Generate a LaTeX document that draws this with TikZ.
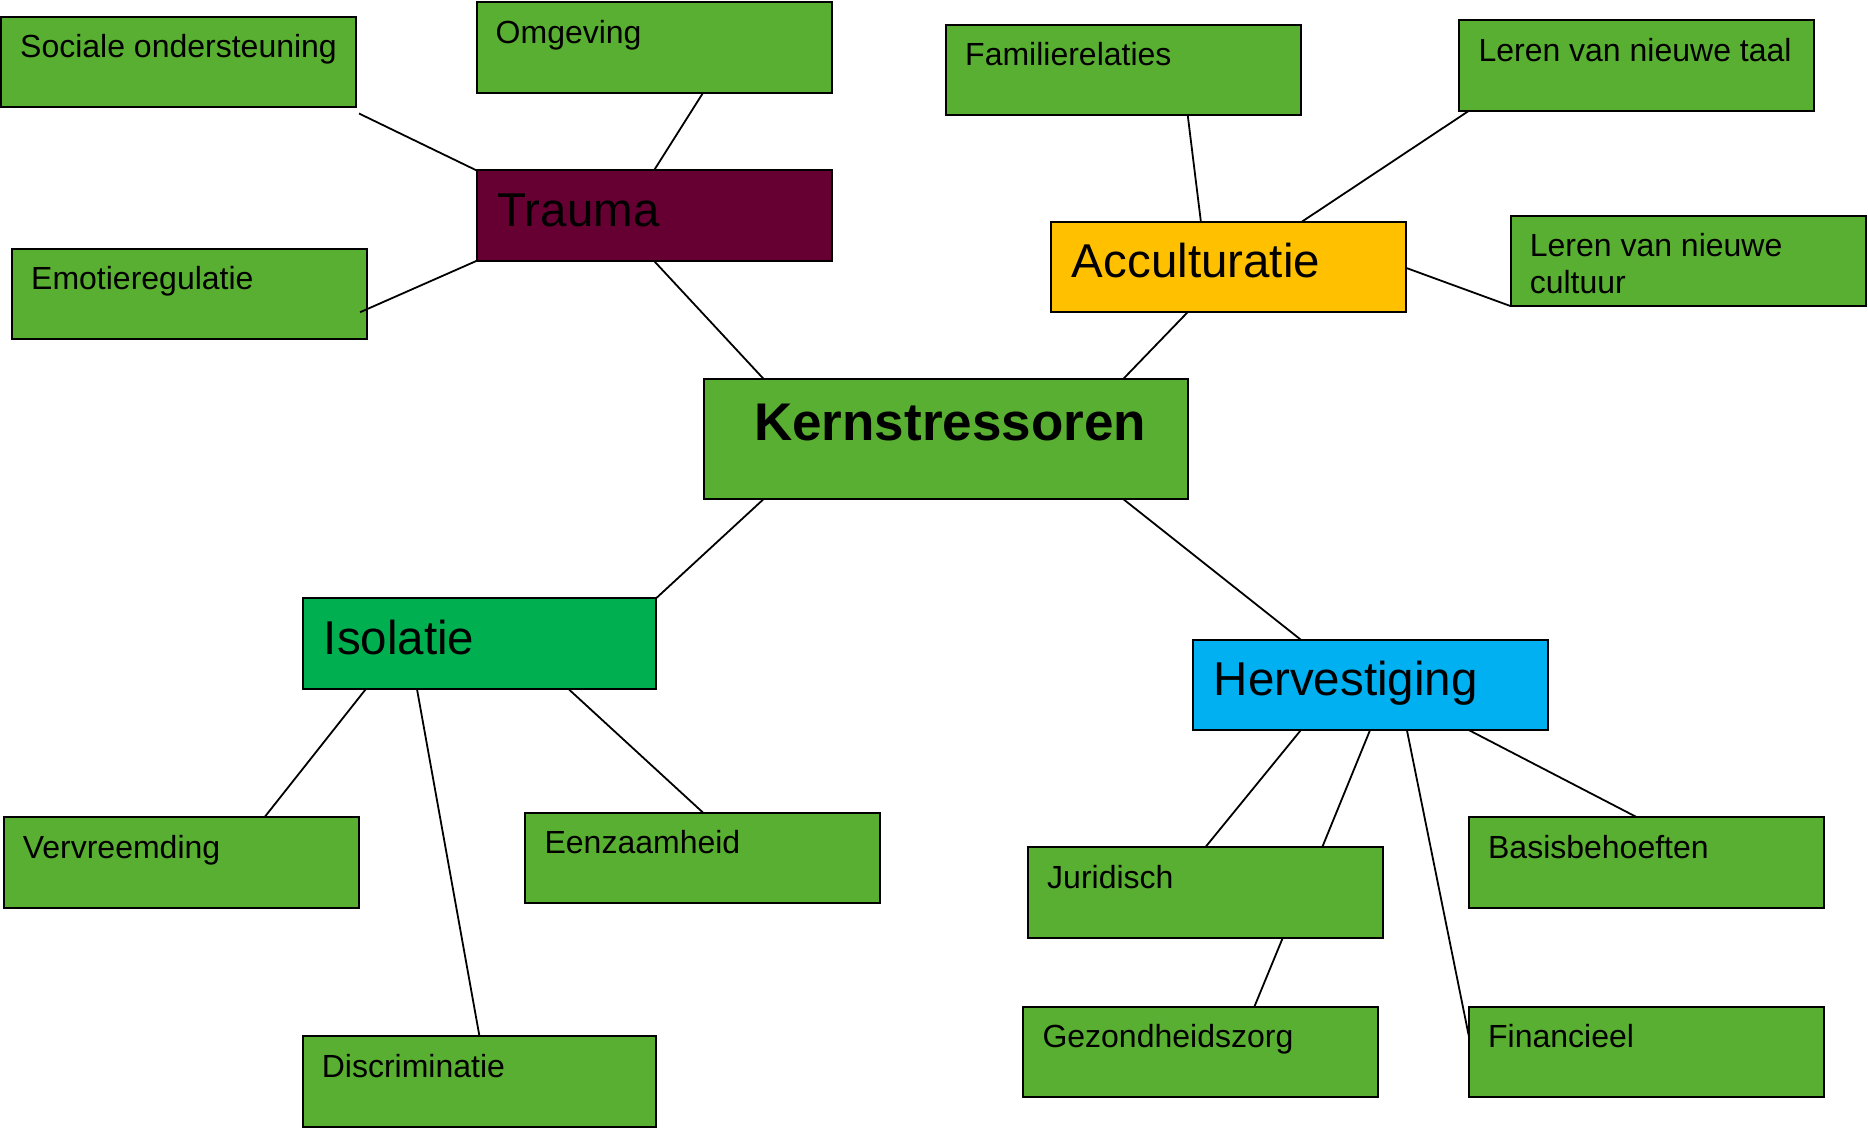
\documentclass[tikz,border=0pt]{standalone}
\usepackage{fontspec}
\setmainfont{Liberation Sans}
\usetikzlibrary{calc}
\definecolor{gr}{RGB}{89,175,49}
\definecolor{trc}{RGB}{102,0,51}
\definecolor{acc}{RGB}{255,192,0}
\definecolor{isc}{RGB}{0,176,80}
\definecolor{hvc}{RGB}{0,176,240}
\tikzset{
  bx/.style={draw=black, line width=2pt, minimum width=355pt, minimum height=90.5pt, anchor=north west, inner sep=0pt, outer sep=0pt, fill=gr},
  smt/.style={font=\fontsize{32}{37}\selectfont, inner sep=0pt, anchor=base west},
  mdt/.style={font=\fontsize{47.5}{55}\selectfont, inner sep=0pt, anchor=base west},
  bgt/.style={font=\fontsize{53}{60}\selectfont\bfseries, inner sep=0pt, anchor=base west},
  ln/.style={draw=black, line width=1.8pt}
}
\begin{document}
\begin{tikzpicture}[x=1pt,y=-1pt]
\useasboundingbox[fill=white] (0,0) rectangle (1868,1131);
% boxes
\node[bx] (so) at (1,17) {};
\node[bx] (om) at (476.5,2.4) {};
\node[bx] (fa) at (946,25) {};
\node[bx] (lt) at (1459.3,20.3) {};
\node[bx, fill=trc] (tr) at (476.5,170.4) {};
\node[bx] (em) at (12,249) {};
\node[bx, fill=acc] (ac) at (1050.7,221.6) {};
\node[bx] (lc) at (1510.6,215.6) {};
\node[bx, minimum width=483.7pt, minimum height=120.4pt] (ke) at (704,378.8) {};
\node[bx, fill=isc, minimum width=353.8pt] (is) at (302.6,598) {};
\node[bx, fill=hvc] (hv) at (1192.5,639.7) {};
\node[bx] (vv) at (3.6,817.2) {};
\node[bx] (ee) at (525.4,812.5) {};
\node[bx] (ju) at (1028,847) {};
\node[bx] (bb) at (1468.9,817.2) {};
\node[bx, minimum width=353.8pt] (di) at (302.6,1036.4) {};
\node[bx] (ge) at (1023.3,1006.6) {};
\node[bx] (fi) at (1468.9,1006.6) {};
% texts
\node[smt] (so-t) at ([shift={(19,41)}]so.north west) {Sociale ondersteuning};
\node[smt] (om-t) at ([shift={(19,41)}]om.north west) {Omgeving};
\node[smt] (fa-t) at ([shift={(19,41)}]fa.north west) {Familierelaties};
\node[smt] (lt-t) at ([shift={(19,41)}]lt.north west) {Leren van nieuwe taal};
\node[smt] (em-t) at ([shift={(19,41)}]em.north west) {Emotieregulatie};
\node[smt] (lc-t1) at ([shift={(19,41)}]lc.north west) {Leren van nieuwe};
\node[smt] (lc-t2) at ([shift={(19,78)}]lc.north west) {cultuur};
\node[smt] (vv-t) at ([shift={(19,41)}]vv.north west) {Vervreemding};
\node[smt] (ee-t) at ([shift={(19,41)}]ee.north west) {Eenzaamheid};
\node[smt] (ju-t) at ([shift={(19,41)}]ju.north west) {Juridisch};
\node[smt] (bb-t) at ([shift={(19,41)}]bb.north west) {Basisbehoeften};
\node[smt] (di-t) at ([shift={(19,41)}]di.north west) {Discriminatie};
\node[smt] (ge-t) at ([shift={(19,41)}]ge.north west) {Gezondheidszorg};
\node[smt] (fi-t) at ([shift={(19,41)}]fi.north west) {Financieel};
\node[mdt] (tr-t) at ([shift={(21,56)}]tr.north west) {Trauma};
\node[mdt] (ac-t) at ([shift={(21,56)}]ac.north west) {Acculturatie};
\node[mdt] (is-t) at ([shift={(21,56)}]is.north west) {Isolatie};
\node[mdt] (hv-t) at ([shift={(21,56)}]hv.north west) {Hervestiging};
\node[bgt] (ke-t) at ([shift={(50,62)}]ke.north west) {Kernstressoren};
% connectors
\coordinate (so-e) at ([shift={(3,6)}]so.south east);
\coordinate (em-e) at ([shift={(-7,18)}]em.east);
\draw[ln] (so-e) -- (tr.north west);
\draw[ln] ($(om.south west)!0.638!(om.south east)$) -- (tr.north);
\draw[ln] (em-e) -- (tr.south west);
\draw[ln] (tr.south) -- ($(ke.north west)!0.123!(ke.north east)$);
\draw[ln] ($(fa.south west)!0.681!(fa.south east)$) -- ($(ac.north west)!0.423!(ac.north east)$);
\draw[ln] ($(lt.south west)!0.027!(lt.south east)$) -- ($(ac.north west)!0.708!(ac.north east)$);
\draw[ln] ($(ac.north east)!0.51!(ac.south east)$) -- (lc.south west);
\draw[ln] ($(ac.south west)!0.386!(ac.south east)$) -- ($(ke.north west)!0.867!(ke.north east)$);
\draw[ln] ($(ke.south west)!0.123!(ke.south east)$) -- (is.north east);
\draw[ln] ($(ke.south west)!0.867!(ke.south east)$) -- ($(hv.north west)!0.305!(hv.north east)$);
\draw[ln] ($(is.south west)!0.18!(is.south east)$) -- ($(vv.north west)!0.735!(vv.north east)$);
\draw[ln] ($(is.south west)!0.323!(is.south east)$) -- (di.north);
\draw[ln] ($(is.south west)!0.75!(is.south east)$) -- (ee.north);
\draw[ln] ($(hv.south west)!0.305!(hv.south east)$) -- (ju.north);
\draw[ln] (hv.south) -- ($(ju.north west)!0.829!(ju.north east)$);
\draw[ln] ($(hv.south west)!0.604!(hv.south east)$) -- ($(fi.north west)!0.33!(fi.south west)$);
\draw[ln] ($(hv.south west)!0.779!(hv.south east)$) -- ($(bb.north west)!0.473!(bb.north east)$);
\draw[ln] ($(ju.south west)!0.718!(ju.south east)$) -- ($(ge.north west)!0.651!(ge.north east)$);
\end{tikzpicture}
\end{document}
